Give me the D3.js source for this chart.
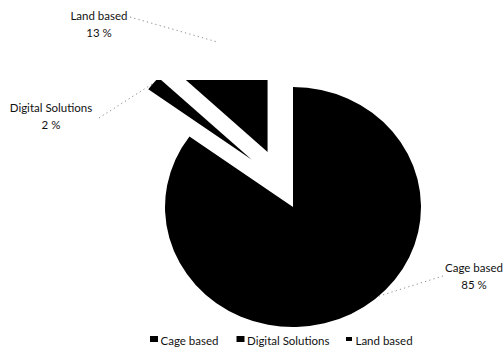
<!DOCTYPE html>
<html><head><meta charset="utf-8">
<script src="https://cdn.jsdelivr.net/npm/d3@7"></script>
<style>
html,body{margin:0;padding:0;background:#fff;}
svg{display:block;}
text{font-family:Lato,"Open Sans",sans-serif;fill:#111;}
</style></head>
<body>
<div id="chart"></div>
<script>
// ---- data ----
const categories = ["Cage based", "Digital Solutions", "Land based"];
const values = [85, 2, 13];
const percentLabels = ["85 %", "2 %", "13 %"];

// ---- layout / style ----
const W = 504, H = 354;
const cx = 293, cy = 207, R = 128, yScale = 0.9375;
const explodeDist = [0, 65, 64];
const explodeAngleDeg = [null, 320.7, null];   // null -> slice bisector
const labelPos = [[474, 271.5], [51, 111.5], [99, 19.5]];
const leaderStart = [[443, 276], [99, 118], [130, 17]];
const leaderAngleDeg = [138, null, null];      // null -> slice mid angle
const legendX = [150, 236.5, 345];
const legendMarker = [[8, 6], [8, 6], [6, 4]];
const legendY = 341.5;

const svg = d3.select("#chart").append("svg").attr("width", W).attr("height", H);

svg.append("defs").append("clipPath").attr("id", "plotclip")
  .append("rect").attr("x", 0).attr("y", 80).attr("width", W).attr("height", 260);

const pie = d3.pie().sort(null).value(d => d)(values);
const arc = d3.arc().innerRadius(0).outerRadius(R);

function offsetOf(i) {
  const d = pie[i];
  const a = explodeAngleDeg[i] == null ? (d.startAngle + d.endAngle) / 2 : explodeAngleDeg[i] * Math.PI / 180;
  return [Math.sin(a) * explodeDist[i], -Math.cos(a) * explodeDist[i]];
}
function toScreen(p) { return [cx + p[0], cy + p[1] * yScale]; }

const plot = svg.append("g").attr("clip-path", "url(#plotclip)");
const pg = plot.append("g").attr("transform", `translate(${cx},${cy}) scale(1,${yScale})`);
pg.selectAll("path").data(pie).join("path")
  .attr("d", arc)
  .attr("transform", (d, i) => { const o = offsetOf(i); return `translate(${o[0]},${o[1]})`; })
  .attr("fill", "#000");

// leader lines
pie.forEach((d, i) => {
  const o = offsetOf(i);
  const a = leaderAngleDeg[i] == null ? (d.startAngle + d.endAngle) / 2 : leaderAngleDeg[i] * Math.PI / 180;
  const end = toScreen([o[0] + Math.sin(a) * R, o[1] - Math.cos(a) * R]);
  svg.append("line")
    .attr("x1", leaderStart[i][0]).attr("y1", leaderStart[i][1])
    .attr("x2", end[0]).attr("y2", end[1])
    .attr("stroke", "#8a8a8a").attr("stroke-width", 1)
    .attr("stroke-dasharray", "1.2 3.2");
});

// data labels
categories.forEach((c, i) => {
  const t = svg.append("text").attr("text-anchor", "middle").style("font-size", "11.5px");
  t.append("tspan").attr("x", labelPos[i][0]).attr("y", labelPos[i][1]).text(c);
  t.append("tspan").attr("x", labelPos[i][0]).attr("y", labelPos[i][1] + 17).text(percentLabels[i]);
});

// legend
const lg = svg.append("g");
categories.forEach((c, i) => {
  const [mw, mh] = legendMarker[i];
  lg.append("rect").attr("x", legendX[i] + (8 - mw) / 2).attr("y", legendY - 2.5 - mh / 2)
    .attr("width", mw).attr("height", mh).attr("fill", "#000");
  lg.append("text").attr("x", legendX[i] + 10.5).attr("y", legendY + 3.5)
    .style("font-size", "11.5px").text(c);
});
</script>
</body></html>
